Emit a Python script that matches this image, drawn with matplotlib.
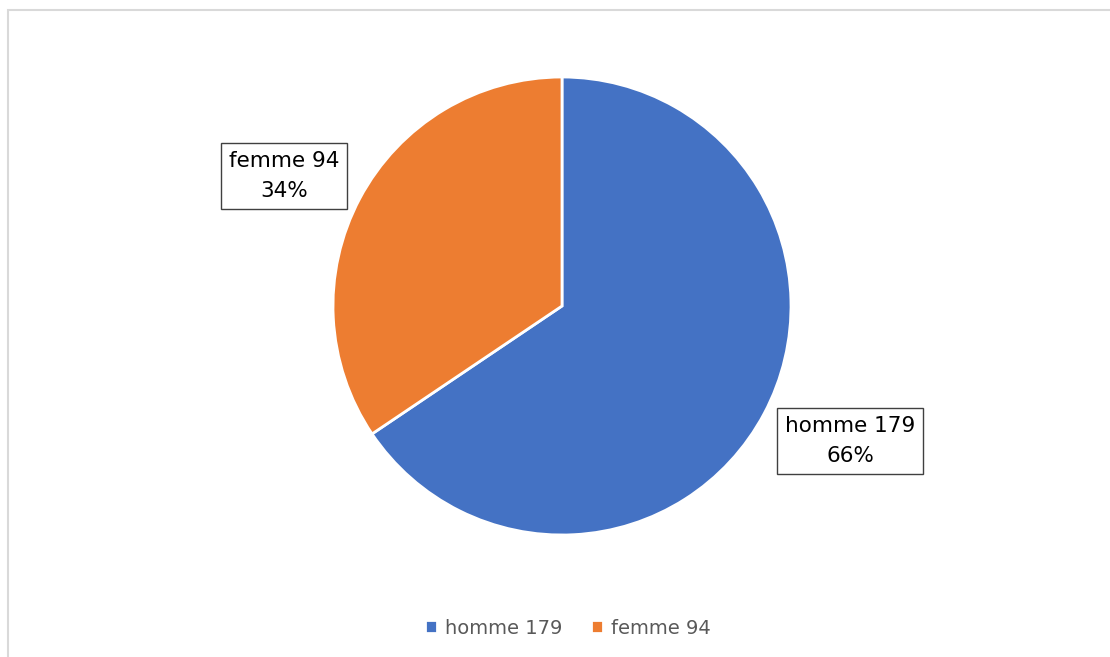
import matplotlib
matplotlib.use("Agg")
from matplotlib import pyplot as plt
from matplotlib.patches import Rectangle

labels = ['homme', 'femme']
counts = [179, 94]
colors = ['#4472C4', '#ED7D31']

W, H = 1110, 657
fig = plt.figure(figsize=(W/100, H/100), dpi=100)
ax = fig.add_axes([0, 0, 1, 1])
ax.set_xlim(0, W)
ax.set_ylim(0, H)
ax.set_aspect('equal')
ax.axis('off')

# outer chart border
fig.patches.append(Rectangle((8/W, -0.1), 1.2, (H-10)/H + 0.1, transform=fig.transFigure,
                             fill=False, edgecolor='#D9D9D9', linewidth=1.5))

total = sum(counts)
wedges, _ = ax.pie(counts, colors=colors, startangle=90, counterclock=False,
                   center=(562, H-306), radius=229,
                   wedgeprops=dict(edgecolor='white', linewidth=2))
ax.set_xlim(0, W)
ax.set_ylim(0, H)

# data labels
label_pos = [(850, H-441), (284, H-176)]
for (x, y), lab, c in zip(label_pos, labels, counts):
    pct = round(100*c/total)
    ax.text(x, y, '%s %d\n%d%%' % (lab, c, pct), ha='center', va='center',
            fontsize=15.5, color='black', family='DejaVu Sans', linespacing=1.65,
            bbox=dict(boxstyle='square,pad=0.35', facecolor='white', edgecolor='#404040', linewidth=1))

# legend
leg = fig.legend(wedges, ['%s %d' % (l, c) for l, c in zip(labels, counts)],
                 loc='center', bbox_to_anchor=(568/W, 1-628/H), ncol=2, frameon=False,
                 fontsize=14, handlelength=0.6, handleheight=0.6, handletextpad=0.4,
                 columnspacing=1.5)
for t in leg.get_texts():
    t.set_color('#595959')

fig.savefig('out.png', dpi=100)
